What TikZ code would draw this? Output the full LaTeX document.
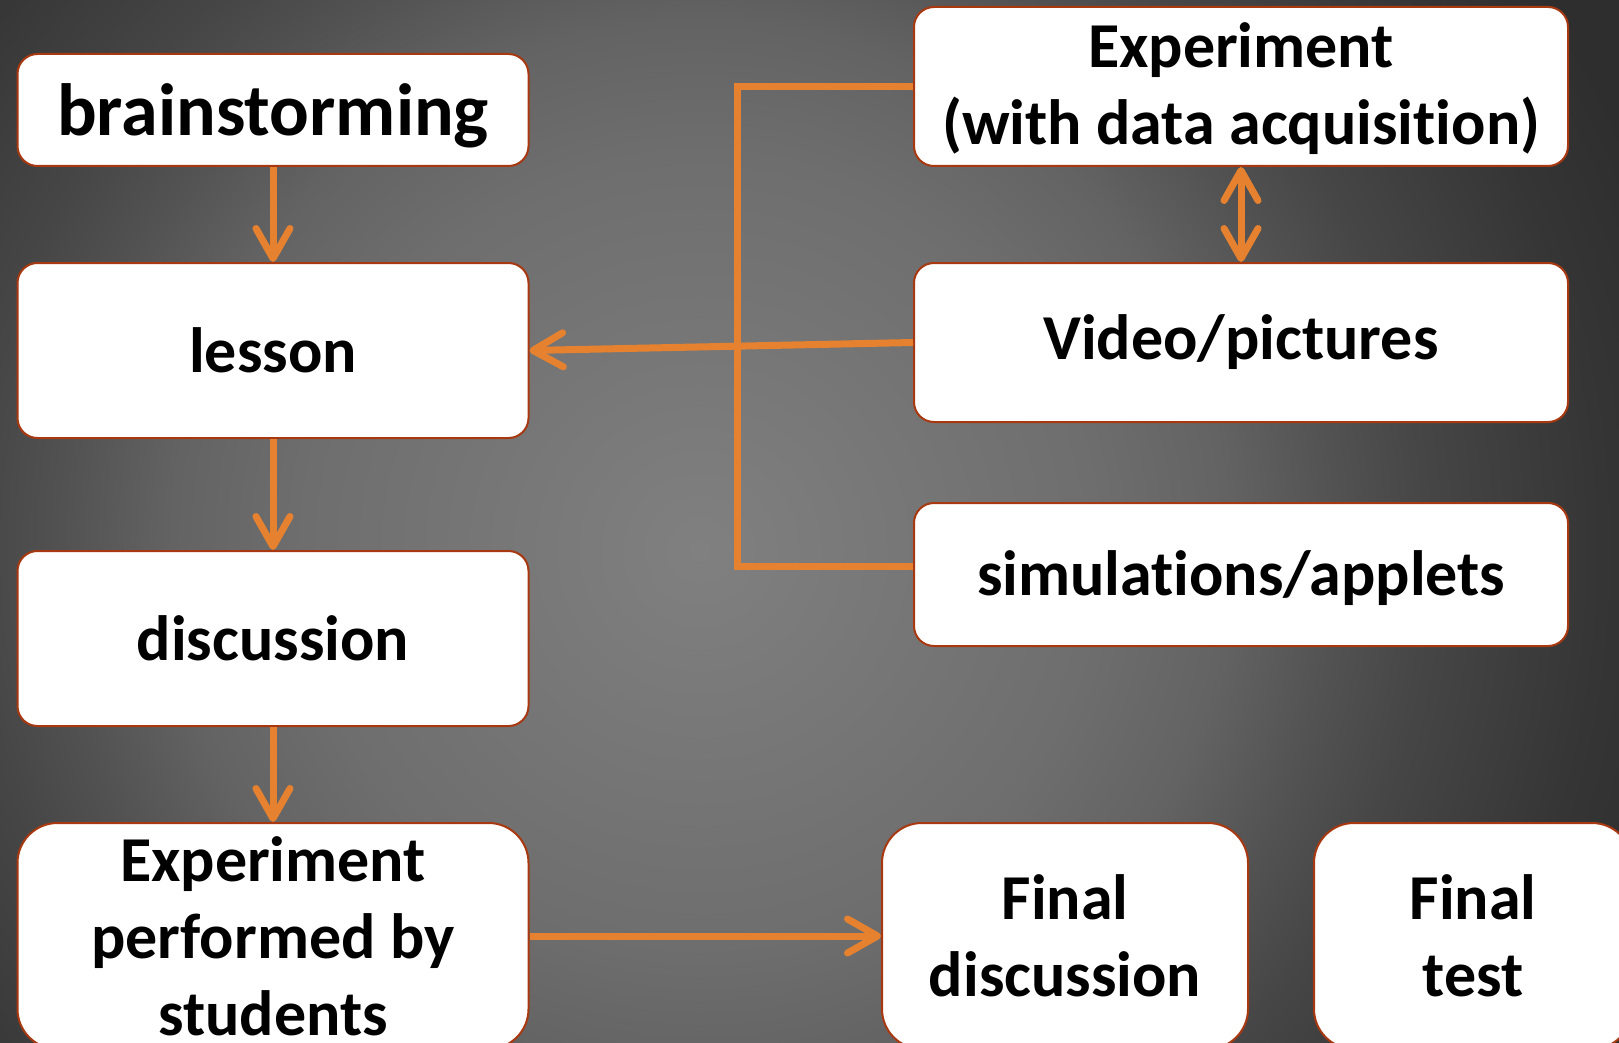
\documentclass[tikz,border=0pt]{standalone}
\usepackage{fontspec}
\setmainfont{Carlito}[Ligatures=NoCommon]
\usetikzlibrary{arrows.meta,calc}
\definecolor{orng}{HTML}{E6822F}
\definecolor{bord}{HTML}{A8380F}
\definecolor{bg0}{HTML}{808080}
\definecolor{bg1}{HTML}{787878}
\definecolor{bg2}{HTML}{6E6E6E}
\definecolor{bg3}{HTML}{636363}
\definecolor{bg4}{HTML}{525252}
\definecolor{bg5}{HTML}{464646}
\definecolor{bg6}{HTML}{353535}
\definecolor{bg7}{HTML}{2E2E2E}
\pgfdeclareradialshading{bgshade}{\pgfpoint{0bp}{0bp}}{color(0bp)=(bg0); color(4bp)=(bg1); color(9bp)=(bg2); color(12bp)=(bg3); color(14.5bp)=(bg4); color(16.5bp)=(bg5); color(20.5bp)=(bg6); color(23bp)=(bg7); color(50bp)=(bg7)}
\begin{document}
\begin{tikzpicture}[x=1pt,y=-1pt,
  box/.style={draw=bord, line width=2pt, fill=white, rounded corners=20pt, inner sep=0pt, align=center, font={\bfseries\fontsize{64}{77}\selectfont}},
  bigbox/.style={box, rounded corners=40pt},
  conn/.style={draw=orng, line width=7pt},
  arr/.style={conn, -{Straight Barb[round,length=30pt,width=34pt]}},
  darr/.style={conn, {Straight Barb[round,length=30pt,width=34pt]}-{Straight Barb[round,length=30pt,width=34pt]}}]
\useasboundingbox (0,0) rectangle (1619,1043);
\begin{scope}
  \clip (0,0) rectangle (1619,1043);
  \shade[shading=bgshade] (-400,-550) rectangle (1800,1650);

  \node[box, minimum width=511pt, minimum height=112pt, font={\bfseries\fontsize{74}{88}\selectfont}] (brain) at (273,110) {\rule{0pt}{63pt}brainstorming};
  \node[box, minimum width=511pt, minimum height=175pt] (lesson) at (273,350.5) {lesson};
  \node[box, minimum width=511pt, minimum height=175pt] (disc) at (273,638.5) {discussion};
  \node[bigbox, minimum width=511pt, minimum height=226pt] (expS) at (273,936) {Experiment\\performed by\\students};
  \node[box, minimum width=654pt, minimum height=159pt] (expA) at (1241,86.5) {\rule{0pt}{50pt}Experiment\\(with data acquisition)};
  \node[box, minimum width=654pt, minimum height=159pt] (video) at (1241,342.5) {Video/pictures};
  \node[box, minimum width=654pt, minimum height=143pt] (sim) at (1241,574.5) {\rule{0pt}{52pt}simulations/applets};
  \node[bigbox, minimum width=366pt, minimum height=226pt] (fdisc) at (1065,936) {Final\\discussion};
  \node[bigbox, minimum width=318pt, minimum height=226pt] (ftest) at (1473,936) {Final\\test};

  \draw[arr] (brain.south) -- (lesson.north);
  \draw[arr] (lesson.south) -- (disc.north);
  \draw[arr] (disc.south) -- (expS.north);
  \draw[arr] (expS.east) -- (fdisc.west);
  \draw[darr] (expA.south) -- (video.north);
  \draw[arr] (video.west) -- (lesson.east);
  \draw[conn] (expA.west) -- ++(-176,0) |- ($(sim.west)+(0,-8)$);
\end{scope}
\end{tikzpicture}
\end{document}
